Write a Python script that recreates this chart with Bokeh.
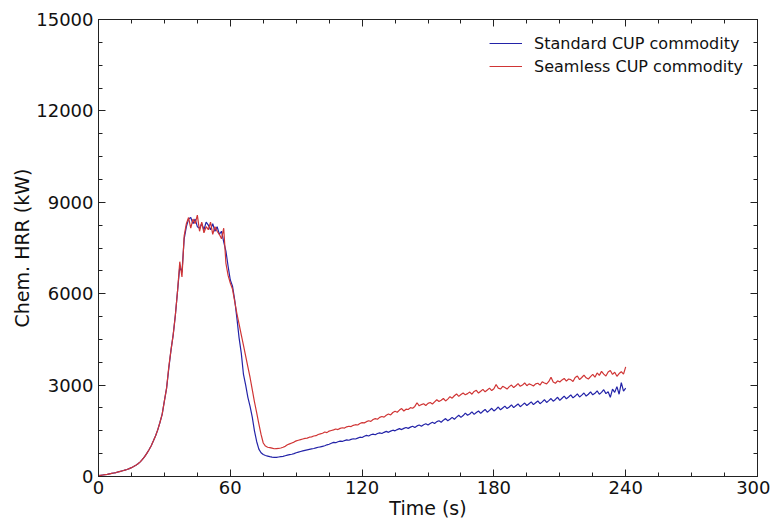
from bokeh.plotting import figure
from bokeh.models import Range1d, LinearAxis, SingleIntervalTicker, Legend, LegendItem
from bokeh.embed import file_html
from bokeh.resources import INLINE

time_s = list(range(0, 241))

seamless_hrr = [
    30, 40, 50, 60, 70, 85, 100, 115, 130, 150,
    170, 190, 210, 230, 260, 290, 330, 370, 420, 480,
    560, 650, 760, 880, 1010, 1170, 1340, 1540, 1780, 2050,
    2480, 2900, 3600, 4150, 4650, 5300, 6100, 7050, 6550, 7900,
    8300, 8500, 8150, 8450, 8300, 8580, 8050, 8350, 8000, 8200,
    8100, 8350, 7950, 8200, 8050, 7950, 7800, 8150, 7000, 6600,
    6350, 6150, 5750, 5350, 5000, 4650, 4300, 3950, 3600, 3250,
    2850, 2450, 2100, 1730, 1380, 1100, 1000, 960, 950, 930,
    910, 915, 920, 935, 960, 990, 1040, 1070, 1100, 1130,
    1170, 1190, 1210, 1230, 1250, 1260, 1290, 1300, 1330, 1340,
    1380, 1400, 1420, 1460, 1440, 1490, 1510, 1530, 1560, 1540,
    1580, 1600, 1590, 1630, 1650, 1640, 1680, 1700, 1690, 1740,
    1770, 1760, 1800, 1830, 1810, 1870, 1900, 1880, 1940, 1970,
    1950, 2010, 2050, 2020, 2100, 2140, 2110, 2180, 2230, 2150,
    2210, 2200, 2260, 2240, 2300, 2420, 2320, 2360, 2390, 2330,
    2400, 2430, 2380, 2450, 2520, 2460, 2500, 2560, 2480, 2540,
    2620, 2570, 2650, 2710, 2630, 2690, 2740, 2680, 2720, 2770,
    2700, 2790, 2830, 2740, 2800, 2860, 2780, 2840, 2900, 2820,
    2880, 3020, 2900, 2870, 2960, 2920, 2870, 2950, 3000, 2920,
    2980, 3050, 2960, 3000, 3070, 2980, 3040, 3010, 2970, 3040,
    3060, 3000, 3110, 3070, 3040, 3120, 3260, 3100, 3060, 3140,
    3100, 3170, 3220, 3130, 3200, 3180, 3120, 3250, 3300, 3180,
    3250, 3330, 3240, 3200, 3280, 3350, 3260, 3400, 3320, 3450,
    3360, 3300, 3430, 3480, 3350, 3420, 3290, 3380, 3440, 3360,
    3600,
]

standard_hrr = [
    30, 40, 50, 60, 70, 85, 100, 115, 130, 150,
    170, 190, 210, 230, 260, 290, 330, 370, 420, 480,
    560, 650, 760, 880, 1010, 1170, 1340, 1540, 1780, 2050,
    2480, 2900, 3550, 4150, 4650, 5300, 6100, 6900, 6700, 7800,
    8200, 8450, 8500, 8300, 8450, 8200, 8150, 8300, 8100, 8350,
    8250, 8100, 8300, 8050, 8200, 7950, 8050, 7700, 7400, 6900,
    6450, 6250, 5800, 5200, 4550, 4050, 3350, 3000, 2600, 2300,
    1950, 1500, 1150, 900, 780, 720, 690, 670, 650, 635,
    625, 630, 640, 650, 660, 680, 700, 720, 730, 750,
    780, 800, 820, 840, 860, 875, 890, 905, 920, 940,
    960, 970, 990, 1010, 1040, 1060, 1090, 1120, 1110, 1140,
    1160, 1150, 1180, 1200, 1190, 1220, 1240, 1230, 1260, 1290,
    1280, 1320, 1350, 1330, 1370, 1390, 1370, 1410, 1430, 1410,
    1450, 1480, 1450, 1490, 1520, 1500, 1540, 1570, 1540, 1580,
    1610, 1580, 1620, 1650, 1610, 1660, 1690, 1650, 1700, 1730,
    1690, 1740, 1780, 1740, 1800, 1830, 1780, 1850, 1900, 1830,
    1880, 1940, 1880, 1950, 2010, 1940, 2000, 2080, 2010, 2050,
    2120, 2040, 2100, 2150, 2070, 2140, 2200, 2110, 2170, 2240,
    2150, 2210, 2280, 2190, 2250, 2310, 2230, 2280, 2350, 2260,
    2320, 2380, 2290, 2350, 2410, 2330, 2390, 2450, 2360, 2420,
    2480, 2390, 2450, 2520, 2430, 2490, 2560, 2470, 2530, 2600,
    2500, 2570, 2640, 2550, 2610, 2680, 2580, 2640, 2710, 2610,
    2670, 2740, 2640, 2700, 2780, 2680, 2730, 2810, 2700, 2760,
    2850, 2720, 2780, 2600, 2870, 2760, 2950, 2700, 3080, 2800,
    2900,
]

series_labels = ["Standard CUP commodity", "Seamless CUP commodity"]
x_ticks_interval = 60
y_ticks_interval = 3000

FONT = "DejaVu Sans"

p = figure(width=770, height=521, output_backend="svg", toolbar_location=None,
           x_range=Range1d(0, 300), y_range=Range1d(0, 15000),
           min_border_left=98, min_border_right=13, min_border_top=19,
           min_border_bottom=45)
p.background_fill_color = "white"
p.border_fill_color = "white"
p.outline_line_color = "#222222"
p.outline_line_width = 1
p.xgrid.visible = False
p.ygrid.visible = False

def style_axis(ax, show_labels=True):
    ax.major_tick_in = 7
    ax.major_tick_out = 0
    ax.minor_tick_in = 4
    ax.minor_tick_out = 0
    ax.axis_line_color = "#222222"
    ax.major_tick_line_color = "#222222"
    ax.minor_tick_line_color = "#222222"
    ax.major_label_text_font = FONT
    ax.major_label_text_font_size = "18px"
    ax.major_label_text_color = "#111111"
    ax.axis_label_text_font = FONT
    ax.axis_label_text_font_size = "19px"
    ax.axis_label_text_font_style = "normal"
    ax.axis_label_text_color = "#111111"
    if not show_labels:
        ax.major_label_text_alpha = 0
        ax.major_label_text_font_size = "1px"
        ax.major_label_standoff = 0

xt = SingleIntervalTicker(interval=x_ticks_interval, num_minor_ticks=4)
yt = SingleIntervalTicker(interval=y_ticks_interval, num_minor_ticks=4)
p.xaxis.ticker = xt
p.yaxis.ticker = yt
p.xaxis.axis_label = "Time (s)"
p.yaxis.axis_label = "Chem. HRR (kW)"
style_axis(p.xaxis[0])
style_axis(p.yaxis[0])
p.xaxis.major_label_standoff = 4
p.yaxis.major_label_standoff = 5
p.xaxis.axis_label_standoff = 0
p.yaxis.axis_label_standoff = 0

top = LinearAxis(ticker=SingleIntervalTicker(interval=x_ticks_interval, num_minor_ticks=4))
right = LinearAxis(ticker=SingleIntervalTicker(interval=y_ticks_interval, num_minor_ticks=4))
style_axis(top, False)
style_axis(right, False)
p.add_layout(top, "above")
p.add_layout(right, "right")

r1 = p.line(time_s, standard_hrr, line_color="#2323a8", line_width=1.2)
r2 = p.line(time_s, seamless_hrr, line_color="#d03535", line_width=1.2)

legend = Legend(items=[LegendItem(label=series_labels[0], renderers=[r1]),
                       LegendItem(label=series_labels[1], renderers=[r2])],
                location="top_right")
legend.border_line_alpha = 0
legend.background_fill_alpha = 0
legend.label_text_font = FONT
legend.label_text_font_size = "16px"
legend.label_text_color = "#111111"
legend.glyph_width = 33
legend.label_standoff = 12
legend.spacing = 3
legend.margin = 10
legend.padding = 4
p.add_layout(legend)

open("out.html", "w").write(file_html(p, INLINE))
